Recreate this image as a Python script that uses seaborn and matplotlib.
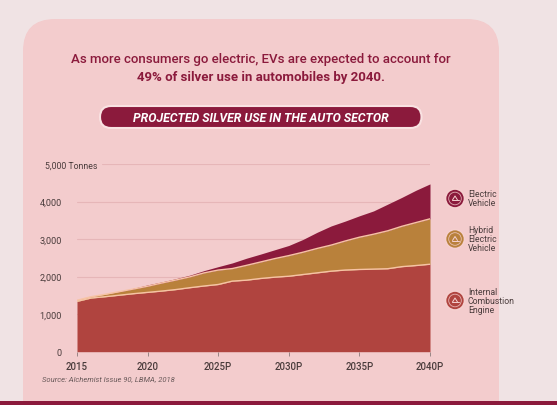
import numpy as np
import pandas as pd
import matplotlib
matplotlib.use("Agg")
import matplotlib.pyplot as plt
import seaborn as sns
from matplotlib.patches import FancyBboxPatch, Circle
from matplotlib.ticker import FuncFormatter

# Du lieu doc tu bieu do (tan bac)
years = list(range(2015, 2041))
ice = [1340, 1430, 1465, 1505, 1545, 1580, 1615, 1655, 1705, 1750, 1790, 1880, 1905,
       1950, 1985, 2010, 2055, 2100, 2145, 2175, 2190, 2200, 2210, 2265, 2295, 2330]
hybrid = [30, 35, 65, 95, 125, 165, 215, 255, 290, 350, 385, 335, 395,
          440, 495, 550, 595, 650, 695, 775, 860, 930, 1010, 1075, 1145, 1210]
electric = [0, 0, 0, 5, 20, 35, 30, 35, 45, 60, 90, 150, 190,
            210, 235, 270, 340, 430, 510, 530, 570, 620, 710, 770, 860, 930]
x_ticks = [2015, 2020, 2025, 2030, 2035, 2040]
x_labels = ['2015', '2020', '2025P', '2030P', '2035P', '2040P']
y_ticks = [0, 1000, 2000, 3000, 4000]
legend_labels = ['Electric\nVehicle', 'Hybrid\nElectric\nVehicle', 'Internal\nCombustion\nEngine']

df = pd.DataFrame({'year': years, 'ice': ice, 'hybrid': hybrid, 'electric': electric})
df['top_ice'] = df['ice']
df['top_hybrid'] = df['ice'] + df['hybrid']

RED = '#b0443f'
GOLD = '#b9813b'
MAROON = '#8b1a3c'
PEACH = '#f7c3a4'
PANEL = '#f3cccd'
OUTER = '#f0e3e4'
TXT = '#4a3c3c'

sns.set_style('white')
plt.rcParams['font.family'] = ['Roboto', 'DejaVu Sans']

W, H = 557, 406
fig = plt.figure(figsize=(W / 100, H / 100), dpi=100)
fig.patch.set_facecolor(OUTER)

# nen: khung hong bo goc, banner, tieu de
bg = fig.add_axes([0, 0, 1, 1])
bg.set_xlim(0, W)
bg.set_ylim(H, 0)
bg.axis('off')
bg.add_patch(FancyBboxPatch((23, 20), 476, 420, boxstyle='round,pad=0,rounding_size=32',
                            facecolor=PANEL, edgecolor='none'))
bg.add_patch(plt.Rectangle((0, 401.5), W, 5, facecolor=MAROON, edgecolor='none'))
bg.text(261, 60, 'As more consumers go electric, EVs are expected to account for',
        ha='center', va='center', fontsize=9.5, color=MAROON, fontweight='medium')
bg.text(261, 78, '49% of silver use in automobiles by 2040.',
        ha='center', va='center', fontsize=9.5, color=MAROON, fontweight='bold')
bg.add_patch(FancyBboxPatch((100, 107), 321.5, 22, boxstyle='round,pad=0,rounding_size=11',
                            facecolor=MAROON, edgecolor='#f9e2e2', linewidth=1.5))
bg.text(261, 118.5, 'PROJECTED SILVER USE IN THE AUTO SECTOR', ha='center', va='center',
        fontsize=8.8, color='white', fontweight='bold', style='italic')
bg.text(42, 379, 'Source: Alchemist Issue 90, LBMA, 2018', ha='left', va='center',
        fontsize=5.5, color='#6a5a5a', style='italic')
bg.text(45, 166, '5,000 Tonnes', ha='left', va='center', fontsize=6.3, color=TXT)

# chu giai: vong tron + chu
leg_colors = [MAROON, GOLD, RED]
leg_y = [199.5, 240, 301.5]
for col, cy, lab in zip(leg_colors, leg_y, legend_labels):
    bg.add_patch(Circle((455, cy), 9.5, facecolor=col, edgecolor='#f5d0cf', linewidth=1.2))
    bg.add_patch(Circle((455, cy), 6.3, facecolor='none', edgecolor='#f5d0cf', linewidth=0.6, alpha=0.8))
    bg.plot([451.5, 458.5], [cy + 1.5, cy + 1.5], color='#f5d0cf', lw=0.7)
    bg.plot([452.5, 455, 457.5], [cy + 1.5, cy - 2.5, cy + 1.5], color='#f5d0cf', lw=0.7)
    bg.text(468, cy, lab, ha='left', va='center', fontsize=6.2, color=TXT, linespacing=1.0)

# bieu do vung chong
ax = fig.add_axes([77 / W, 1 - 352.7 / H, 353 / W, 187.7 / H])
ax.patch.set_alpha(0)
ax.stackplot(df['year'], df['ice'], df['hybrid'], df['electric'],
             colors=[RED, GOLD, MAROON], linewidth=0)
sns.lineplot(data=df, x='year', y='top_ice', ax=ax, color=PEACH, linewidth=1.0)
sns.lineplot(data=df, x='year', y='top_hybrid', ax=ax, color=PEACH, linewidth=1.0)

for v in [1000, 2000, 3000, 4000]:
    ax.axhline(v, color='#e6b6b8', linewidth=0.8, zorder=0)
ax.axhline(5000, xmin=25 / 353, color='#e6b6b8', linewidth=0.8, zorder=0)

ax.set_xlim(2015, 2040)
ax.set_ylim(0, 5000)
ax.set_xticks(x_ticks)
ax.set_xticklabels(x_labels, fontsize=6.9, color=TXT, fontweight='medium')
ax.set_yticks(y_ticks)
ax.yaxis.set_major_formatter(FuncFormatter(lambda v, p: f'{int(v):,}'))
ax.tick_params(axis='y', labelsize=6.6, labelcolor=TXT, length=0, pad=11)
ax.tick_params(axis='x', length=3, width=0.6, color='#8a7a7a', pad=4, direction='out', bottom=True)
ax.set_xlabel('')
ax.set_ylabel('')
for s in ax.spines.values():
    s.set_visible(False)

fig.savefig('out.png', dpi=100, facecolor=fig.get_facecolor())
